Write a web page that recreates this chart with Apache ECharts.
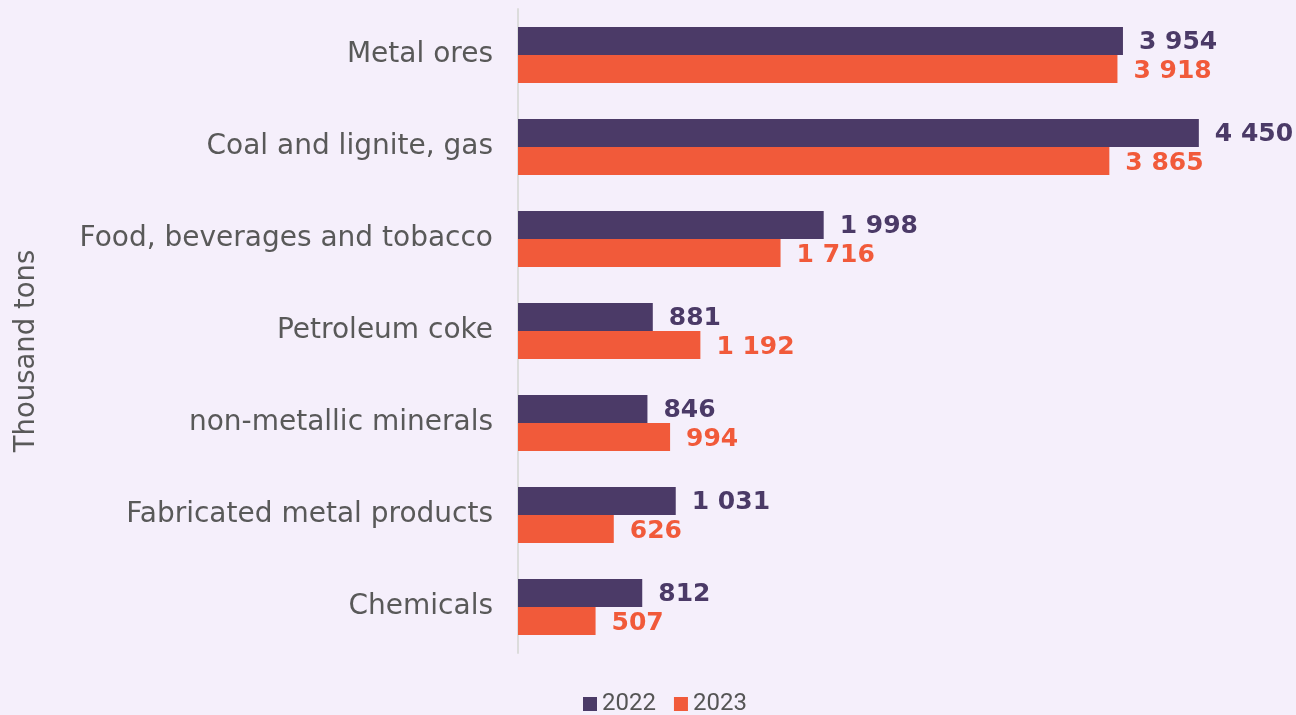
<!DOCTYPE html>
<html>
<head>
<meta charset="utf-8">
<script src="https://cdn.jsdelivr.net/npm/echarts@6/dist/echarts.min.js"></script>
<style>
html,body{margin:0;padding:0;background:#f5effb;}
#c{width:1296px;height:715px;}
</style>
</head>
<body>
<div id="c"></div>
<script>
const categories = ["Metal ores","Coal and lignite, gas","Food, beverages and tobacco","Petroleum coke","non-metallic minerals","Fabricated metal products","Chemicals"];
const values2022 = [3954, 4450, 1998, 881, 846, 1031, 812];
const values2023 = [3918, 3865, 1716, 1192, 994, 626, 507];
const seriesNames = ["2022","2023"];
const axisName = "Thousand tons";

const fmt = v => String(v).replace(/\B(?=(\d{3})+(?!\d))/g, ' ');
const colors = ['#4b3a67', '#f15a3a'];
const FF = '"DejaVu Sans", sans-serif';

const chart = echarts.init(document.getElementById('c'));
function mkSeries(name, data, color) {
  return {
    name: name, type: 'bar', data: data,
    barGap: 0, barCategoryGap: '39%',
    itemStyle: {color: color},
    label: {
      show: true, position: 'right', distance: 16, offset: [0, 2],
      color: color, fontFamily: FF, fontWeight: 'bold', fontSize: 25,
      formatter: p => fmt(p.value)
    }
  };
}
chart.setOption({
  backgroundColor: '#f5effb',
  animation: false,
  color: colors,
  grid: {left: 518, right: 13, top: 9, bottom: 62, containLabel: false},
  legend: {
    bottom: -6, left: 578,
    itemWidth: 14, itemHeight: 14, itemGap: 18,
    icon: 'rect',
    textStyle: {fontFamily: 'Roboto', fontSize: 24, color: '#555'},
    data: seriesNames
  },
  xAxis: {
    type: 'value', min: 0, max: 5000, show: false
  },
  yAxis: {
    type: 'category', data: categories, inverse: true,
    axisLine: {show: true, lineStyle: {color: '#dcdcdc', width: 2}},
    axisTick: {show: false},
    axisLabel: {fontFamily: FF, fontSize: 28, color: '#595959', margin: 25}
  },
  graphic: [{
    type: 'text', x: 27, y: 351, rotation: Math.PI / 2,
    style: {text: axisName, fontFamily: FF, fontSize: 27.5, fill: '#595959', align: 'center', verticalAlign: 'middle'}
  }],
  series: [
    mkSeries(seriesNames[0], values2022, colors[0]),
    mkSeries(seriesNames[1], values2023, colors[1])
  ]
});
</script>
</body>
</html>
